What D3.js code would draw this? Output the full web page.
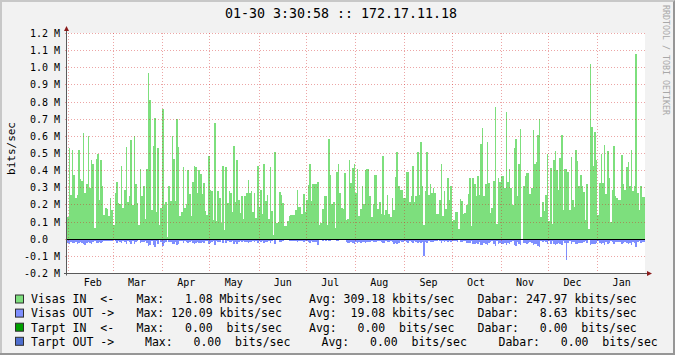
<!DOCTYPE html>
<html>
<head>
<meta charset="utf-8">
<script src="https://cdn.jsdelivr.net/npm/d3@7"></script>
<style>
  body { margin: 0; background: #fff; }
  svg text { font-family: "DejaVu Sans Mono", monospace; white-space: pre; }
</style>
</head>
<body>
<div id="graph"></div>
<script>
// Datos del grafico (Mbits/sec, un valor por dia desde 01-30)
const title = "01-30 3:30:58 :: 172.17.11.18"
const yTicks = [-0.2, -0.1, 0.0, 0.1, 0.2, 0.3, 0.4, 0.5, 0.6, 0.7, 0.8, 0.9, 1.0, 1.1, 1.2]
const monthLabels = ["Feb", "Mar", "Apr", "May", "Jun", "Jul", "Aug", "Sep", "Oct", "Nov", "Dec", "Jan"]

const visasIn = [
  // jan 30 - feb 28
  0.13, 0.53, 0.26, 0.52, 0.375, 0.24, 0.26, 0.52, 0.35, 0.34,
  0.62, 0.27, 0.32, 0.60, 0.30, 0.46, 0.44, 0.065, 0.47, 0.50,
  0.23, 0.46, 0.31, 0.14, 0.18, 0.175, 0.135, 0.24, 0.17, 0.085,
  // mar
  0.27, 0.335, 0.21, 0.205, 0.43, 0.18, 0.29, 0.54, 0.22, 0.25,
  0.58, 0.20, 0.60, 0.32, 0.21, 0.085, 0.41, 0.25, 0.31, 0.12,
  0.41, 0.97, 0.81, 0.17, 0.545, 0.71, 0.16, 0.53, 0.085, 0.18,
  0.76, 0.20,
  // apr - may
  0.22, 0.015, 0.31, 0.225, 0.60, 0.47, 0.225, 0.70, 0.54, 0.135,
  0.16, 0.42, 0.18, 0.205, 0.405, 0.265, 0.135, 0.335, 0.43, 0.42,
  0.27, 0.405, 0.38, 0.265, 0.33, 0.165, 0.14, 0.485, 0.29, 0.28,
  0.11, 0.68, 0.105, 0.28, 0.24, 0.095, 0.43, 0.055, 0.42, 0.21,
  0.28, 0.27, 0.16, 0.545, 0.215, 0.46, 0.23, 0.155, 0.25, 0.12,
  0.25, 0.27, 0.345, 0.27, 0.28, 0.16, 0.27, 0.126, 0.43, 0.19,
  // jun - jul
  0.29, 0.15, 0.44, 0.225, 0.26, 0.12, 0.42, 0.165, 0.025, 0.51,
  0.095, 0.10, 0.275, 0.26, 0.21, 0.075, 0.075, 0.105, 0.135, 0.14,
  0.14, 0.14, 0.17, 0.29, 0.19, 0.19, 0.15, 0.265, 0.16, 0.23,
  0.315, 0.44, 0.225, 0.32, 0.32, 0.32, 0.335, 0.085, 0.095, 0.175,
  0.25, 0.25, 0.085, 0.585, 0.375, 0.205, 0.215, 0.065, 0.39, 0.44,
  0.27, 0.18, 0.175, 0.385, 0.115, 0.12, 0.46, 0.33, 0.415, 0.44,
  0.27, 0.41,
  // aug - sep
  0.135, 0.175, 0.31, 0.205, 0.405, 0.41, 0.41, 0.25, 0.13, 0.205,
  0.375, 0.375, 0.175, 0.22, 0.15, 0.485, 0.14, 0.17, 0.26, 0.15,
  0.13, 0.24, 0.17, 0.365, 0.51, 0.31, 0.29, 0.29, 0.24, 0.24,
  0.39, 0.39, 0.215, 0.25, 0.43, 0.22, 0.25, 0.51, 0.26, 0.57,
  0.31, 0.085, 0.28, 0.51, 0.26, 0.32, 0.27, 0.30, 0.27, 0.15,
  0.15, 0.23, 0.44, 0.135, 0.28, 0.175, 0.36, 0.23, 0.31, 0.105,
  0.11,
  // oct - nov
  0.16, 0.16, 0.06, 0.235, 0.225, 0.15, 0.155, 0.20, 0.265, 0.36,
  0.075, 0.355, 0.32, 0.255, 0.37, 0.26, 0.555, 0.65, 0.25, 0.325,
  0.565, 0.33, 0.155, 0.185, 0.34, 0.77, 0.09, 0.36, 0.335, 0.37,
  0.37, 0.30, 0.74, 0.335, 0.41, 0.30, 0.20, 0.53, 0.585, 0.25,
  0.44, 0.645, 0.0, 0.31, 0.37, 0.385, 0.385, 0.265, 0.30, 0.64,
  0.44, 0.45, 0.61, 0.70, 0.13, 0.22, 0.165, 0.26, 0.50, 0.105,
  // dec - jan
  0.415, 0.09, 0.46, 0.515, 0.405, 0.29, 0.475, 0.61, 0.17, 0.41,
  0.41, 0.395, 0.17, 0.48, 0.23, 0.19, 0.52, 0.455, 0.31, 0.375,
  0.31, 0.275, 0.115, 0.32, 0.06, 1.02, 0.655, 0.43, 0.625, 0.46,
  0.14, 0.33, 0.50, 0.33, 0.55, 0.265, 0.515, 0.36, 0.10, 0.29,
  0.545, 0.25, 0.24, 0.23, 0.23, 0.49, 0.32, 0.29, 0.42, 0.45,
  0.31, 0.52, 0.28, 0.31, 1.08, 0.27, 0.17, 0.31, 0.245, 0.245
]

const visasOut = [
  // jan 30 - feb 28
  0.022, 0.030, 0.018, 0.024, 0.020, 0.016, 0.026, 0.022, 0.018, 0.024,
  0.028, 0.032, 0.020, 0.016, 0.022, 0.030, 0.014, 0.008, 0.020, 0.024,
  0.016, 0.022, 0.018, 0.008, 0.010, 0.010, 0.008, 0.012, 0.010, 0.006,
  // mar
  0.012, 0.020, 0.010, 0.014, 0.024, 0.010, 0.016, 0.030, 0.012, 0.014,
  0.026, 0.010, 0.028, 0.016, 0.012, 0.006, 0.022, 0.014, 0.018, 0.008,
  0.024, 0.040, 0.036, 0.012, 0.034, 0.044, 0.010, 0.030, 0.006, 0.016,
  0.042, 0.020,
  // apr - may
  0.016, 0.004, 0.018, 0.014, 0.030, 0.026, 0.016, 0.034, 0.028, 0.010,
  0.012, 0.024, 0.012, 0.014, 0.022, 0.018, 0.010, 0.020, 0.026, 0.022,
  0.016, 0.024, 0.022, 0.018, 0.020, 0.012, 0.010, 0.028, 0.020, 0.018,
  0.008, 0.034, 0.008, 0.018, 0.014, 0.006, 0.024, 0.004, 0.024, 0.012,
  0.018, 0.016, 0.010, 0.030, 0.014, 0.026, 0.016, 0.010, 0.016, 0.008,
  0.016, 0.018, 0.022, 0.016, 0.018, 0.010, 0.016, 0.008, 0.024, 0.012,
  // jun - jul
  0.018, 0.010, 0.024, 0.014, 0.016, 0.008, 0.022, 0.010, 0.002, 0.026,
  0.006, 0.006, 0.016, 0.014, 0.012, 0.004, 0.004, 0.006, 0.008, 0.008,
  0.008, 0.008, 0.010, 0.014, 0.010, 0.010, 0.008, 0.014, 0.010, 0.012,
  0.016, 0.024, 0.012, 0.018, 0.018, 0.016, 0.034, 0.004, 0.004, 0.008,
  0.006, 0.008, 0.004, 0.010, 0.008, 0.006, 0.006, 0.002, 0.008, 0.010,
  0.006, 0.004, 0.004, 0.006, 0.016, 0.020, 0.024, 0.018, 0.022, 0.026,
  0.016, 0.020,
  // aug - sep
  0.018, 0.020, 0.016, 0.014, 0.020, 0.018, 0.018, 0.016, 0.008, 0.014,
  0.018, 0.016, 0.012, 0.010, 0.016, 0.020, 0.024, 0.010, 0.016, 0.014,
  0.010, 0.016, 0.028, 0.022, 0.026, 0.020, 0.012, 0.016, 0.014, 0.012,
  0.018, 0.020, 0.010, 0.016, 0.022, 0.012, 0.014, 0.020, 0.016, 0.024,
  0.018, 0.100, 0.014, 0.022, 0.012, 0.016, 0.014, 0.016, 0.012, 0.008,
  0.006, 0.010, 0.020, 0.008, 0.016, 0.010, 0.014, 0.012, 0.016, 0.010,
  0.008,
  // oct - nov
  0.012, 0.014, 0.006, 0.018, 0.016, 0.010, 0.012, 0.020, 0.024, 0.022,
  0.008, 0.028, 0.026, 0.020, 0.030, 0.018, 0.034, 0.036, 0.020, 0.026,
  0.032, 0.024, 0.014, 0.012, 0.026, 0.040, 0.010, 0.028, 0.024, 0.030,
  0.026, 0.020, 0.036, 0.022, 0.028, 0.018, 0.012, 0.032, 0.038, 0.016,
  0.026, 0.034, 0.002, 0.020, 0.024, 0.028, 0.022, 0.018, 0.020, 0.036,
  0.026, 0.030, 0.040, 0.044, 0.010, 0.016, 0.012, 0.018, 0.030, 0.008,
  // dec - jan
  0.026, 0.010, 0.030, 0.032, 0.026, 0.020, 0.030, 0.036, 0.012, 0.024,
  0.120, 0.024, 0.012, 0.028, 0.016, 0.014, 0.030, 0.026, 0.020, 0.024,
  0.020, 0.018, 0.008, 0.022, 0.006, 0.034, 0.030, 0.026, 0.028, 0.024,
  0.010, 0.022, 0.030, 0.020, 0.032, 0.016, 0.028, 0.022, 0.008, 0.018,
  0.030, 0.016, 0.014, 0.016, 0.016, 0.026, 0.020, 0.018, 0.024, 0.028,
  0.020, 0.032, 0.018, 0.022, 0.048, 0.018, 0.012, 0.024, 0.016, 0.014
]

// Leyenda
const legendNames = ["Visas IN  <-", "Visas OUT ->", "Tarpt IN  <-", "Tarpt OUT ->"]
const legendColors = ["#7ddf7d", "#7f8fff", "#00a000", "#4f6fcf"]
const maxVals = ["1.08", "120.09", "0.00", "0.00"]
const maxUnits = ["M", "k", " ", " "]
const avgVals = ["309.18", "19.08", "0.00", "0.00"]
const avgUnits = ["k", "k", " ", " "]
const lastVals = ["247.97", "8.63", "0.00", "0.00"]
const lastUnits = ["k", "k", " ", " "]

const dimensions = { width: 675, height: 355 }
const plot = { left: 67, right: 645, top: 33.5, bottom: 273.5 }

const drawGraph = () => {
  const svg = d3.select("#graph")
    .append("svg")
      .attr("width", dimensions.width)
      .attr("height", dimensions.height)
      .style("display", "block")

  // Fondo y borde sombreado
  svg.append("rect")
    .attr("width", dimensions.width).attr("height", dimensions.height)
    .attr("fill", "#f2f2f2")
  svg.append("path")
    .attr("d", `M0,${dimensions.height} V0 H${dimensions.width} V2 H2 V${dimensions.height - 2} H0 Z`)
    .attr("fill", "#c8c8c8")
  svg.append("path")
    .attr("d", `M${dimensions.width},0 V${dimensions.height} H0 V${dimensions.height - 2} H${dimensions.width - 2} V2 Z`)
    .attr("fill", "#969696")

  // Escalas
  const start = new Date(Date.UTC(2007, 0, 30, 18, 0, 0))
  const end = d3.utcDay.offset(start, visasIn.length)

  const xScale = d3.scaleUtc()
    .domain([start, end])
    .range([plot.left, plot.right])

  const yScale = d3.scaleLinear()
    .domain([-0.2, 1.2])
    .range([plot.bottom, plot.top])

  const snap = v => Math.floor(v) + 0.5

  // Lienzo blanco
  svg.append("rect")
    .attr("x", plot.left).attr("y", Math.floor(plot.top))
    .attr("width", plot.right - plot.left)
    .attr("height", Math.floor(plot.bottom) - Math.floor(plot.top))
    .attr("fill", "#ffffff")

  // Series
  const toPoints = values => {
    const pts = values.map((v, i) => ({ date: d3.utcDay.offset(start, i), value: v }))
    pts.push({ date: end, value: values[values.length - 1] })
    return pts
  }

  const inArea = d3.area()
    .curve(d3.curveStepAfter)
    .x(d => xScale(d.date))
    .y0(yScale(0))
    .y1(d => yScale(d.value))

  const outArea = d3.area()
    .curve(d3.curveStepAfter)
    .x(d => xScale(d.date))
    .y0(yScale(0))
    .y1(d => yScale(-d.value))

  svg.append("path")
    .datum(toPoints(visasIn))
    .attr("d", inArea)
    .attr("fill", legendColors[0])
    .attr("shape-rendering", "crispEdges")

  svg.append("path")
    .datum(toPoints(visasOut))
    .attr("d", outArea)
    .attr("fill", legendColors[1])
    .attr("shape-rendering", "crispEdges")

  // Rejilla punteada
  const gridColor = "rgba(210, 40, 40, 0.42)"
  const grid = svg.append("g")
    .attr("stroke", gridColor)
    .attr("stroke-width", 1)
    .attr("stroke-dasharray", "1,2")

  grid.selectAll("line.h")
    .data(yTicks)
    .join("line")
      .attr("class", "h")
      .attr("x1", plot.left - 2).attr("x2", plot.right + 2)
      .attr("y1", d => snap(yScale(d))).attr("y2", d => snap(yScale(d)))

  const months = d3.utcMonth.range(start, end)
  grid.selectAll("line.v")
    .data(months)
    .join("line")
      .attr("class", "v")
      .attr("x1", d => snap(xScale(d))).attr("x2", d => snap(xScale(d)))
      .attr("y1", Math.floor(plot.top)).attr("y2", plot.bottom + 2)

  // Linea de cero
  svg.append("line")
    .attr("x1", plot.left).attr("x2", plot.right)
    .attr("y1", snap(yScale(0))).attr("y2", snap(yScale(0)))
    .attr("stroke", "#000").attr("stroke-width", 1.2)

  // Ejes con flechas
  const axisColor = "#5a5a5a"
  const arrowColor = "#8b1c1c"
  svg.append("line")
    .attr("x1", plot.left - 0.5).attr("x2", plot.left - 0.5)
    .attr("y1", plot.bottom + 2).attr("y2", plot.top - 3)
    .attr("stroke", axisColor)
  svg.append("line")
    .attr("x1", plot.left - 3).attr("x2", plot.right + 3)
    .attr("y1", snap(yScale(-0.2))).attr("y2", snap(yScale(-0.2)))
    .attr("stroke", axisColor)
  svg.append("path")
    .attr("d", `M${plot.left - 3},${plot.top - 2.5} L${plot.left + 2},${plot.top - 2.5} L${plot.left - 0.5},${plot.top - 7.5} Z`)
    .attr("fill", arrowColor)
  svg.append("path")
    .attr("d", `M${plot.right + 2},${snap(yScale(-0.2)) - 2.5} L${plot.right + 2},${snap(yScale(-0.2)) + 2.5} L${plot.right + 7},${snap(yScale(-0.2))} Z`)
    .attr("fill", arrowColor)

  // Etiquetas del eje Y
  const yLabel = d => d === 0 ? "0.0  " : `${d.toFixed(1)} M`
  svg.append("g")
    .selectAll("text")
    .data(yTicks)
    .join("text")
      .attr("x", 60)
      .attr("y", d => snap(yScale(d)) + 3.5)
      .attr("text-anchor", "end")
      .attr("font-size", "10px")
      .attr("fill", "#000")
      .text(yLabel)

  // Etiquetas de meses (a mitad de mes)
  svg.append("g")
    .selectAll("text")
    .data(months)
    .join("text")
      .attr("x", d => xScale(d3.utcDay.offset(d, 15)))
      .attr("y", 285.5)
      .attr("text-anchor", "middle")
      .attr("font-size", "10px")
      .attr("fill", "#000")
      .text((_, i) => monthLabels[i])

  // Titulo y eje vertical
  svg.append("text")
    .attr("x", 341).attr("y", 18.3)
    .attr("text-anchor", "middle")
    .attr("font-size", "13.3px")
    .attr("fill", "#000")
    .text(title)

  svg.append("text")
    .attr("transform", "translate(14.5,148.5) rotate(-90)")
    .attr("text-anchor", "middle")
    .attr("font-size", "11px")
    .attr("fill", "#000")
    .text("bits/sec")

  svg.append("text")
    .attr("transform", "translate(663,5) rotate(90)")
    .attr("font-size", "8.3px")
    .attr("fill", "#a8a8a8")
    .text("RRDTOOL / TOBI OETIKER")

  // Leyenda
  const pad = s => s.padStart(6, " ")
  const rowTops = [294.5, 308.6, 322.7, 336.8]
  const cols = [[31, 136.5, 309, 477.5], [31, 136.5, 309, 477.5], [31, 136.5, 309, 477.5], [31, 145, 321.5, 498.5]]

  const legend = svg.append("g")
  legendNames.forEach((name, i) => {
    legend.append("rect")
      .attr("x", 15.5).attr("y", rowTops[i] + 0.5)
      .attr("width", 8).attr("height", 8)
      .attr("fill", legendColors[i])
      .attr("stroke", "#303030")

    const parts = [
      name,
      `Max: ${pad(maxVals[i])} ${maxUnits[i]}bits/sec`,
      `Avg: ${pad(avgVals[i])} ${avgUnits[i]}bits/sec`,
      `Dabar: ${pad(lastVals[i])} ${lastUnits[i]}bits/sec`
    ]
    legend.selectAll(null)
      .data(parts)
      .join("text")
        .attr("x", (_, j) => cols[i][j])
        .attr("y", rowTops[i] + 8.8)
        .attr("font-size", "11.5px")
        .attr("fill", "#000")
        .text(d => d)
  })
}

drawGraph()
</script>
</body>
</html>
